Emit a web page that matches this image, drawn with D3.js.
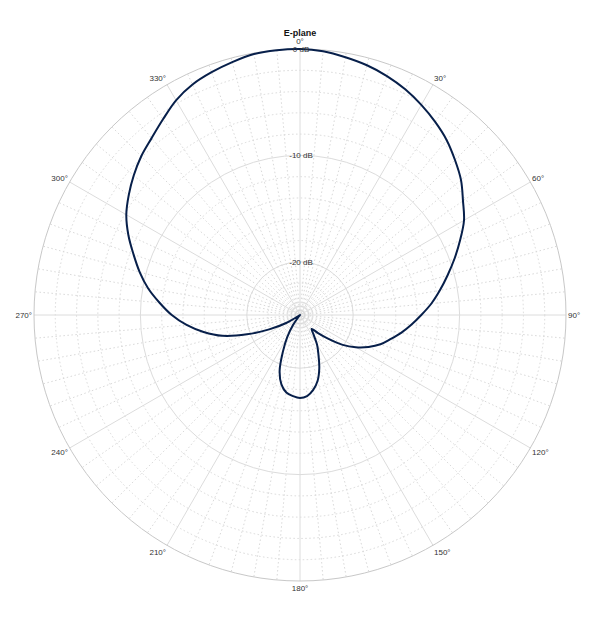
<!DOCTYPE html>
<html>
<head>
<meta charset="utf-8">
<script src="https://cdn.jsdelivr.net/npm/d3@7"></script>
<style>
    body { margin: 0; background: #fff; }
    svg { display: block; font-family: "Liberation Sans", Arial, sans-serif; }
</style>
</head>
<body>
<div id="polarChart"></div>
<script>
// pattern, one value every 5 degrees (clockwise from 0)
const angles = [
    0, 5, 10, 15, 20, 25, 30, 35, 40, 45, 50, 55,
    60, 65, 70, 75, 80, 85, 90, 95, 100, 105, 110, 115,
    120, 125, 130, 135, 140, 145, 150, 155, 160, 165, 170, 175,
    180, 185, 190, 195, 200, 205, 210, 215, 220, 225, 230, 235,
    240, 245, 250, 255, 260, 265, 270, 275, 280, 285, 290, 295,
    300, 305, 310, 315, 320, 325, 330, 335, 340, 345, 350, 355
];
const gainDb = [
    0.0, -0.12, -0.4, -0.7, -1.1, -1.6, -2.2, -2.85, -3.55, -4.4, -5.25, -6.3,
    -7.2, -8.4, -9.55, -10.65, -11.65, -12.6, -13.6, -14.5, -15.35, -16.2, -16.95, -17.9,
    -18.95, -20.1, -21.5, -22.6, -23.3, -22.8, -21.8, -20.9, -19.7, -18.6, -17.85, -17.35,
    -17.2, -17.35, -17.6, -18.25, -19.4, -21.2, -22.6, -23.9, -27, -32, -32, -27,
    -23.5, -21.8, -19.7, -17.45, -15.8, -14.3, -12.95, -11.75, -10.5, -9.4, -8.35, -7.2,
    -6.15, -5.35, -4.6, -3.9, -3.3, -2.55, -1.7, -1.1, -0.72, -0.4, -0.1, -0.02
];

const angleTicks = [0, 30, 60, 90, 120, 150, 180, 210, 240, 270, 300, 330];
const angleMinor = d3.range(0, 360, 5);
const radialTicks = [-20, -10, 0];
const radialMinor = [-24, -22, -18, -16, -14, -12, -8, -6, -4, -2];
const radialDomain = [-25, 0];
const title = "E-plane";

function drawPolar() {
    const width = 600;
    const height = 617;
    const cx = 300, cy = 315;
    const radius = 266;

    const r = d3.scaleLinear().domain(radialDomain).range([0, radius]).clamp(true);
    const rad = a => a * Math.PI / 180;

    const svg = d3.create("svg")
        .attr("width", width)
        .attr("height", height);

    svg.append("text")
        .attr("x", cx)
        .attr("y", 36)
        .attr("text-anchor", "middle")
        .attr("font-size", 9)
        .attr("font-weight", "bold")
        .attr("fill", "#111")
        .text(title);

    const g = svg.append("g")
        .attr("transform", `translate(${cx},${cy})`);

    // minor grid, dotted
    g.append("g")
        .selectAll()
        .data(radialMinor)
        .join("circle")
        .attr("r", d => r(d))
        .attr("fill", "none")
        .attr("stroke", "#d9d9d9")
        .attr("stroke-dasharray", "1.5,2.5");

    g.append("g")
        .selectAll()
        .data(angleMinor.filter(a => a % 30 !== 0))
        .join("line")
        .attr("x2", d => radius * Math.sin(rad(d)))
        .attr("y2", d => -radius * Math.cos(rad(d)))
        .attr("stroke", "#d9d9d9")
        .attr("stroke-dasharray", "1.5,2.5");

    // major grid
    g.append("g")
        .selectAll()
        .data(angleTicks)
        .join("line")
        .attr("x2", d => radius * Math.sin(rad(d)))
        .attr("y2", d => -radius * Math.cos(rad(d)))
        .attr("stroke", "#dcdcdc");

    g.append("g")
        .selectAll()
        .data(radialTicks)
        .join("circle")
        .attr("r", d => r(d))
        .attr("fill", "none")
        .attr("stroke", d => d === 0 ? "#c8c8c8" : "#dcdcdc");

    // the pattern itself
    const data = angles.map((a, i) => [rad(a), gainDb[i]]);
    const line = d3.lineRadial()
        .curve(d3.curveCatmullRomClosed.alpha(0.5))
        .angle(d => d[0])
        .radius(d => r(d[1]));

    g.append("path")
        .datum(data)
        .attr("d", line)
        .attr("fill", "none")
        .attr("stroke", "#071f4a")
        .attr("stroke-width", 2)
        .attr("stroke-linejoin", "round");

    // radial labels sit on the 0 degree spoke
    g.append("g")
        .selectAll()
        .data(radialTicks)
        .join("text")
        .attr("x", 1)
        .attr("y", d => -r(d))
        .attr("dy", "0.35em")
        .attr("text-anchor", "middle")
        .attr("font-size", 8)
        .attr("fill", "#333")
        .text(d => `${d} dB`);

    // angle labels just outside the rim
    const lr = radius + 2;
    g.append("g")
        .selectAll()
        .data(angleTicks)
        .join("text")
        .attr("x", d => lr * Math.sin(rad(d)))
        .attr("y", d => -lr * Math.cos(rad(d)))
        .attr("dy", d => `${0.35 - 0.7 * Math.cos(rad(d))}em`)
        .attr("text-anchor", d => {
            const s = Math.sin(rad(d));
            return s > 0.01 ? "start" : s < -0.01 ? "end" : "middle";
        })
        .attr("font-size", 8)
        .attr("fill", "#333")
        .text(d => `${d}°`);

    document.getElementById("polarChart").appendChild(svg.node());
}

drawPolar();
</script>
</body>
</html>
